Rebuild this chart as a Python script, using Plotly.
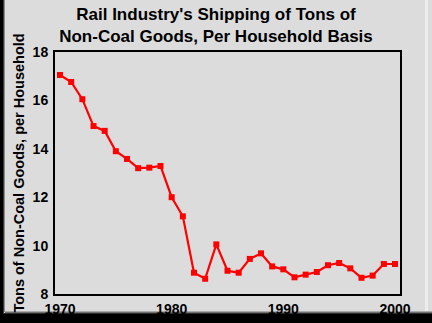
import plotly.graph_objects as go

# Rail shipments of non-coal goods, tons per household
years = list(range(1970, 2001))
tons_per_household = [
    17.05, 16.76, 16.05, 14.94, 14.74, 13.90, 13.58, 13.20, 13.22, 13.29,
    12.00, 11.21, 8.88, 8.63, 10.05, 8.96, 8.88, 9.45, 9.68, 9.14,
    9.02, 8.69, 8.80, 8.91, 9.19, 9.28, 9.06, 8.67, 8.76, 9.24,
    9.24,
]
x_ticks = [1970, 1980, 1990, 2000]
y_ticks = [8, 10, 12, 14, 16, 18]

W, H = 432, 323
L, R, T, B = 55, 32, 52, 29
PW, PH = W - L - R, H - T - B

GRAY = "#dcdcdc"
BOLD = "Liberation Sans, Arial, sans-serif"


def px_x(p):
    return (p - L) / PW


def px_y(p):
    return (H - B - p) / PH


def frame_rect(x0, x1, y0, y1, color):
    return dict(type="rect", xref="paper", yref="paper",
                x0=px_x(x0), x1=px_x(x1), y0=px_y(y1), y1=px_y(y0),
                fillcolor=color, line=dict(width=0), layer="below")


# bevelled frame: dark shadow on the left and bottom edges
shapes = [
    frame_rect(0, 3, -5, H + 5, "#000000"),
    frame_rect(3, 4, -5, 314, "#3a3a3a"),
    frame_rect(4, 5, -5, 312, "#8a8a8a"),
    frame_rect(0, W + 5, 314, H + 5, "#000000"),
    frame_rect(4, W + 5, 313, 314, "#2e2e2e"),
    frame_rect(5, W + 5, 312, 313, "#707070"),
    frame_rect(5, W + 5, 311, 312, "#a8a8a8"),
    frame_rect(425, 428, -5, 311, "#ececec"),
]

fig = go.Figure(
    go.Scatter(
        x=years, y=tons_per_household, mode="lines+markers",
        line=dict(color="#ff0000", width=2.2),
        marker=dict(symbol="square", size=6, color="#ff0000"),
        showlegend=False,
    )
)

fig.update_layout(
    width=W, height=H,
    margin=dict(l=L, r=R, t=T, b=B, pad=0, autoexpand=False),
    paper_bgcolor=GRAY, plot_bgcolor=GRAY,
    font=dict(family=BOLD, color="#000000", weight="bold"),
    title=dict(
        text="Rail Industry's Shipping of Tons of<br>Non-Coal Goods, Per Household Basis",
        font=dict(size=17, family=BOLD, weight="bold", color="#000000"),
        x=0.5, xref="container", xanchor="center",
        y=0.937, yref="container", yanchor="top",
        automargin=False,
    ),
    shapes=shapes,
    xaxis=dict(
        range=[1969.55, 2000.45], tickvals=x_ticks,
        showgrid=False, zeroline=False, ticks="",
        showline=True, linecolor="#000000", linewidth=2, mirror=True,
        tickfont=dict(size=14, family=BOLD, weight="bold"),
        ticklabelstandoff=1, automargin=False,
    ),
    yaxis=dict(
        range=[8, 18], tickvals=y_ticks,
        showgrid=False, zeroline=False, ticks="",
        showline=True, linecolor="#000000", linewidth=2, mirror=True,
        tickfont=dict(size=14, family=BOLD, weight="bold"),
        ticklabelstandoff=2, automargin=False,
        title=dict(text="Tons of Non-Coal Goods, per Household",
                   font=dict(size=14.5, family=BOLD, weight="bold"),
                   standoff=5),
    ),
)

fig.write_html("out.html")
